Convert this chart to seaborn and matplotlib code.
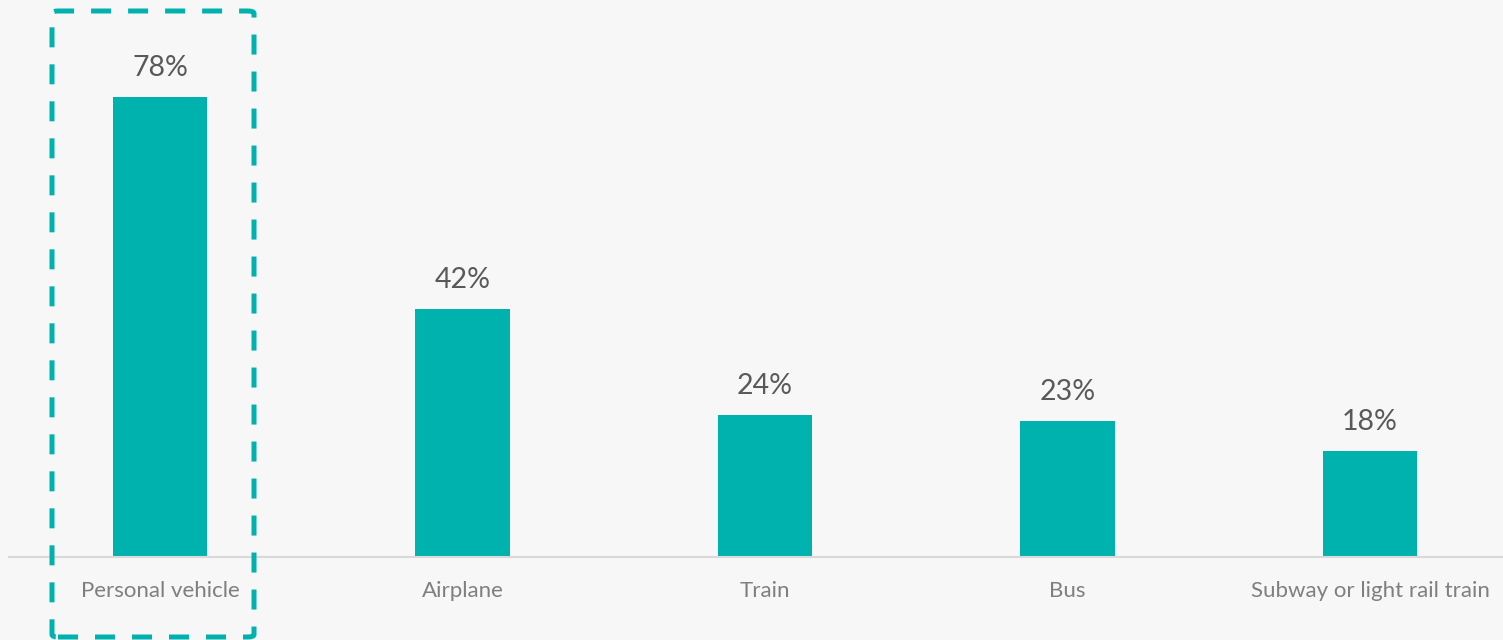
import matplotlib
matplotlib.use("Agg")
import matplotlib.pyplot as plt
from matplotlib.patches import FancyBboxPatch
import seaborn as sns
import pandas as pd

# Share of respondents using each mode of transport
modes = ["Personal vehicle", "Airplane", "Train", "Bus", "Subway or light rail train"]
shares = [78, 42, 24, 23, 18]
value_labels = ["78%", "42%", "24%", "23%", "18%"]

BG = "#F7F7F7"
TEAL = "#00B2AE"

sns.set_theme(style="white")
plt.rcParams["font.family"] = ["Lato", "DejaVu Sans"]

W, H, DPI = 1503, 640, 100
fig = plt.figure(figsize=(W / DPI, H / DPI), dpi=DPI, facecolor=BG)

# Axes in pixel geometry: category pitch ~302.5 px, baseline at y=557
pitch = 302.5
left_px = 160 - pitch / 2
base_px = H - 557
px_per_unit = 5.9
ymax = 90
ax = fig.add_axes([left_px / W, base_px / H, 5 * pitch / W, ymax * px_per_unit / H])
ax.set_facecolor(BG)

df = pd.DataFrame({"mode": modes, "share": shares})
sns.barplot(data=df, x="mode", y="share", color=TEAL, width=0.314,
            saturation=1, ax=ax, edgecolor="none")

ax.set_xlim(-0.5, 4.5)
ax.set_ylim(0, ymax)

for i, (v, lab) in enumerate(zip(shares, value_labels)):
    ax.annotate(lab, (i, v), xytext=(0, 11.5), textcoords="offset points",
                ha="center", va="bottom", fontsize=20.5, color="#595959")

for s in ["top", "right", "left"]:
    ax.spines[s].set_visible(False)
ax.spines["bottom"].set_color("#D9D9D9")
ax.spines["bottom"].set_linewidth(1.5)
ax.set_yticks([])
ax.set_xlabel("")
ax.set_ylabel("")
ax.tick_params(axis="x", length=0, pad=17.5, labelsize=16, labelcolor="#7F7F7F")

# Dashed highlight frame around the first category
x0, x1 = 52, 254
y_top, y_bot = 11, 637
frame = FancyBboxPatch((x0 / W, (H - y_bot) / H), (x1 - x0) / W, (y_bot - y_top) / H,
                       boxstyle="round,pad=0,rounding_size=0.004",
                       transform=fig.transFigure, fill=False,
                       edgecolor=TEAL, linewidth=3.6,
                       linestyle=(0, (4, 3.4)), clip_on=False)
fig.patches.append(frame)

fig.savefig("out.png", dpi=DPI, facecolor=BG)
